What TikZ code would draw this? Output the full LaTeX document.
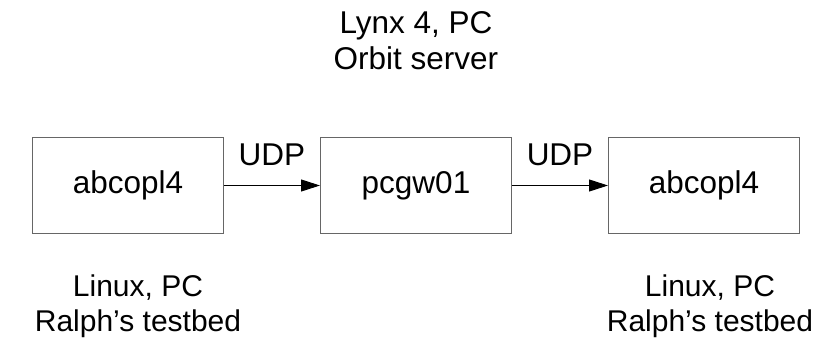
\documentclass[tikz,border=0pt]{standalone}
\usepackage{fontspec}
\setmainfont{Liberation Sans}
\usetikzlibrary{arrows.meta}
\begin{document}
\begin{tikzpicture}[x=1pt,y=1pt,
  every node/.style={font=\fontsize{31.5}{36}\selectfont},
  box/.style={draw=black!60, line width=1pt, minimum width=191pt, minimum height=96pt, inner sep=0pt, anchor=north west},
  lbl/.style={align=center, inner sep=0pt},
  small/.style={font=\fontsize{30}{35}\selectfont},
  conn/.style={-{Triangle[length=19pt,width=12pt]}, line width=1pt}]
\useasboundingbox (0,0) rectangle (836,-342);
\node[box] (a) at (32,-137) {abcopl4};
\node[box] (b) at (320,-137) {pcgw01};
\node[box] (c) at (608,-137) {abcopl4};
\draw[conn] (a.east) -- (b.west) node[midway, above=20pt, inner sep=0pt, anchor=base] (u1) {UDP};
\draw[conn] (b.east) -- (c.west) node[midway, above=20pt, inner sep=0pt, anchor=base] (u2) {UDP};
\node[lbl, anchor=base] (top) at (416,-70) {Lynx 4, PC\\Orbit server};
\node[lbl, small, anchor=base] (bl) at (138,-331) {Linux, PC\\Ralph’s testbed};
\node[lbl, small, anchor=base] (br) at (710,-331) {Linux, PC\\Ralph’s testbed};
\end{tikzpicture}
\end{document}
